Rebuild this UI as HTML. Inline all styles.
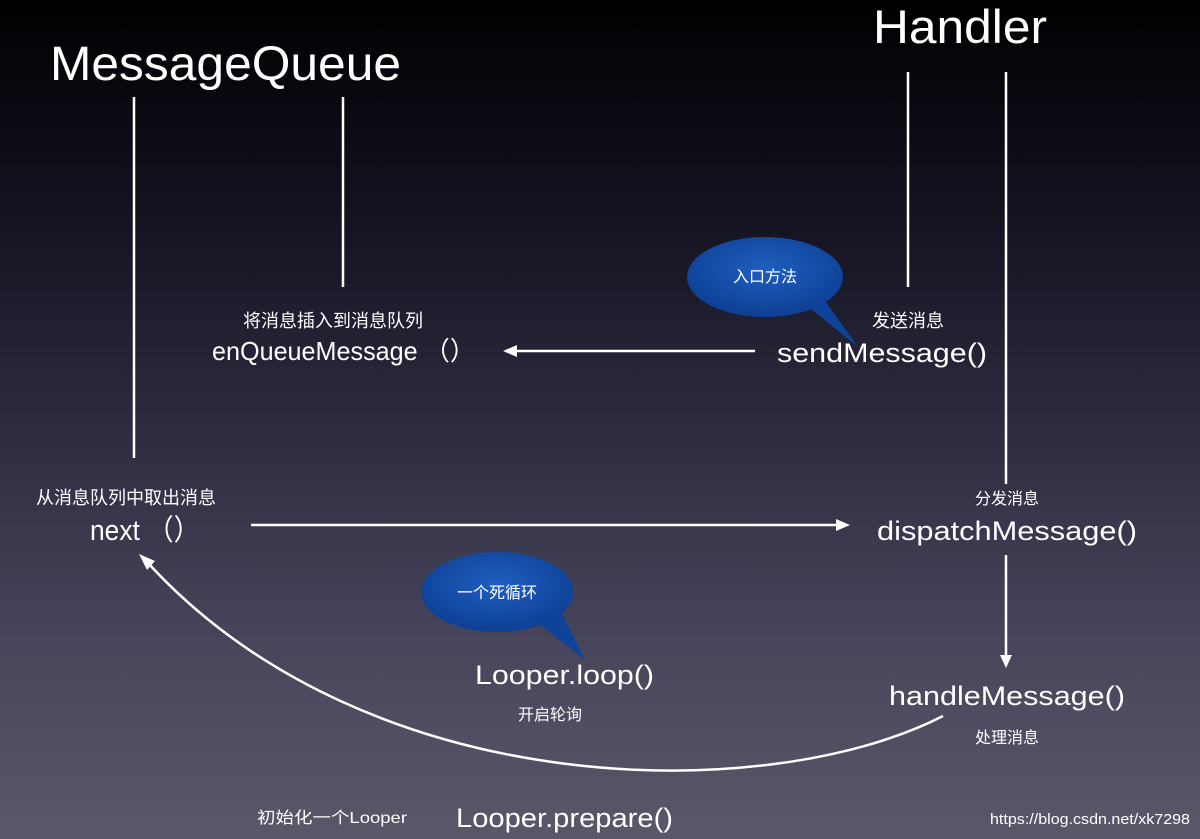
<!DOCTYPE html>
<html><head><meta charset="utf-8"><style>
html,body{margin:0;padding:0}
body{width:1200px;height:839px;overflow:hidden;background:linear-gradient(to bottom,#000002 0%,#13121f 25%,#2c2a3e 50%,#46445a 75%,#595869 100%);}
svg{display:block}
text{font-family:"Liberation Sans","Noto Sans CJK SC",sans-serif;fill:#fff}
</style></head><body>
<svg width="1200" height="839" viewBox="0 0 1200 839">
<defs><radialGradient id="b" cx="50%" cy="40%" r="60%"><stop offset="0" stop-color="#1f5fc0"/><stop offset="1" stop-color="#0d3f94"/></radialGradient></defs>
<text x="50" y="80" font-size="48" textLength="351" lengthAdjust="spacingAndGlyphs">MessageQueue</text>
<text x="873" y="43" font-size="47" textLength="174" lengthAdjust="spacingAndGlyphs">Handler</text>
<g stroke="#fff" stroke-width="2.5" fill="none">
<line x1="134" y1="97" x2="134" y2="458"/>
<line x1="343" y1="97" x2="343" y2="287"/>
<line x1="908" y1="72" x2="908" y2="287"/>
<line x1="1006" y1="72" x2="1006" y2="484"/>
<line x1="755" y1="351" x2="515" y2="351"/>
<line x1="251" y1="525" x2="838" y2="525"/>
<line x1="1006" y1="555" x2="1006" y2="658"/>
<path d="M943,716 C770,805 370,805 148,563"/>
</g>
<g fill="#fff">
<polygon points="503,351 517,345 517,357"/>
<polygon points="850,525 836,519 836,531"/>
<polygon points="1006,668 1000,655 1012,655"/>
<polygon points="139,554 155,561 147,570"/>
</g>
<ellipse cx="765" cy="277" rx="78" ry="40" fill="url(#b)"/>
<polygon points="800,300 858,347 823,298" fill="#0f4399"/>
<text x="765" y="282" font-size="16" text-anchor="middle">入口方法</text>
<ellipse cx="497" cy="592" rx="76" ry="40" fill="url(#b)"/>
<polygon points="530,617 585,660 560,610" fill="#0f4399"/>
<text x="497" y="598" font-size="16" text-anchor="middle">一个死循环</text>
<text x="333" y="327" font-size="18" text-anchor="middle">将消息插入到消息队列</text>
<text x="212" y="360" font-size="26" textLength="263" lengthAdjust="spacingAndGlyphs">enQueueMessage （）</text>
<text x="908" y="327" font-size="18" text-anchor="middle">发送消息</text>
<text x="777" y="362" font-size="27" textLength="210" lengthAdjust="spacingAndGlyphs">sendMessage()</text>
<text x="126" y="504" font-size="18" text-anchor="middle">从消息队列中取出消息</text>
<text x="90" y="540" font-size="29" textLength="110" lengthAdjust="spacingAndGlyphs">next （）</text>
<text x="1007" y="504" font-size="16" text-anchor="middle">分发消息</text>
<text x="877" y="540" font-size="27" textLength="260" lengthAdjust="spacingAndGlyphs">dispatchMessage()</text>
<text x="889" y="705" font-size="27" textLength="236" lengthAdjust="spacingAndGlyphs">handleMessage()</text>
<text x="1007" y="743" font-size="16" text-anchor="middle">处理消息</text>
<text x="475" y="684" font-size="27" textLength="179" lengthAdjust="spacingAndGlyphs">Looper.loop()</text>
<text x="550" y="720" font-size="16" text-anchor="middle">开启轮询</text>
<text x="257" y="823" font-size="16" textLength="150" lengthAdjust="spacingAndGlyphs">初始化一个Looper</text>
<text x="456" y="827" font-size="27" textLength="217" lengthAdjust="spacingAndGlyphs">Looper.prepare()</text>
<text x="990" y="824" font-size="15" textLength="200" lengthAdjust="spacingAndGlyphs">https://blog.csdn.net/xk7298</text>
</svg>
</body></html>
